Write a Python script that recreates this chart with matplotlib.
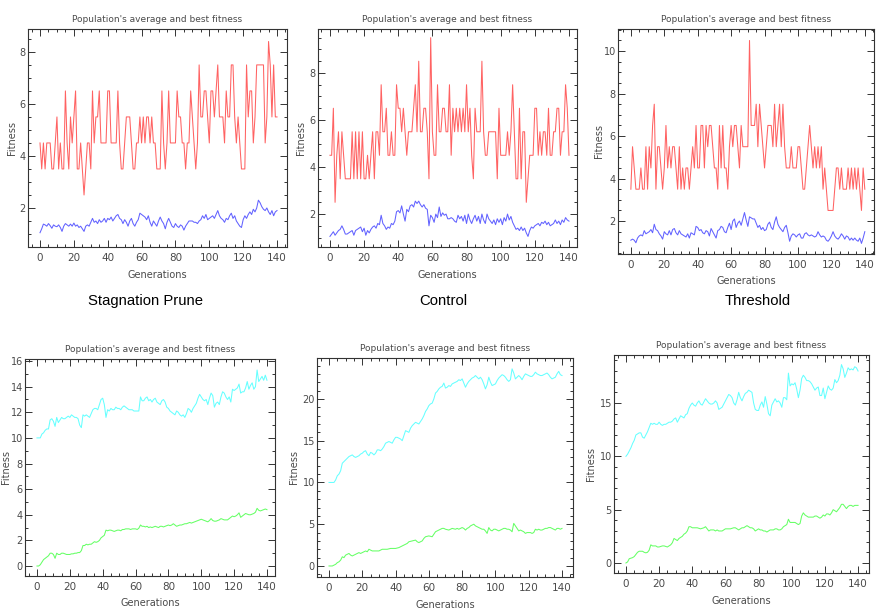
import matplotlib
matplotlib.use("Agg")
import matplotlib.pyplot as plt
from matplotlib.ticker import MultipleLocator

gens = list(range(141))

# top row: best (red) and average (blue) fitness
prune_best = [4.5, 3.5, 4.5, 3.5, 4.5, 4.5, 4.5, 3.5, 3.5, 4.5,
              5.5, 3.5, 4.5, 3.5, 3.5, 6.5, 4.5, 3.5, 5.5, 4.5,
              5.5, 6.5, 3.5, 3.5, 4.5, 3.5, 2.5, 3.5, 4.5, 4.5,
              3.5, 6.5, 4.5, 5.5, 5.5, 6.5, 4.5, 4.5, 4.5, 4.5,
              6.5, 6.5, 4.5, 4.5, 4.5, 4.5, 6.5, 4.5, 3.5, 3.5,
              4.5, 5.5, 5.5, 5.5, 4.5, 3.5, 3.5, 4.5, 4.5, 5.5,
              4.5, 5.5, 4.5, 5.5, 5.5, 4.5, 5.5, 4.5, 4.5, 3.5,
              3.5, 3.5, 6.5, 4.5, 3.5, 4.5, 6.5, 4.5, 4.5, 4.5,
              4.5, 6.5, 5.5, 5.5, 4.5, 4.5, 3.5, 4.5, 4.5, 6.5,
              5.5, 4.5, 3.5, 4.5, 7.5, 5.5, 5.5, 6.5, 6.5, 5.5,
              4.5, 6.5, 6.5, 5.5, 6.5, 7.5, 5.5, 5.5, 5.5, 4.5,
              6.5, 5.5, 5.5, 7.5, 7.5, 5.5, 4.5, 5.5, 4.5, 3.5,
              3.5, 3.5, 7.5, 5.5, 6.5, 6.5, 4.5, 5.5, 7.5, 7.5,
              7.5, 7.5, 7.5, 4.5, 5.5, 8.4, 7.5, 5.5, 7.5, 5.5, 5.5]
prune_avg = [1.05, 1.2, 1.38, 1.35, 1.3, 1.4, 1.32, 1.22, 1.35, 1.3,
             1.28, 1.35, 1.25, 1.1, 1.3, 1.4, 1.35, 1.3, 1.38, 1.3,
             1.42, 1.3, 1.35, 1.25, 1.3, 1.2, 1.1, 1.3, 1.35, 1.3,
             1.45, 1.6, 1.45, 1.5, 1.4, 1.55, 1.45, 1.5, 1.6, 1.45,
             1.6, 1.55, 1.65, 1.5, 1.6, 1.7, 1.75, 1.6, 1.55, 1.4,
             1.55, 1.45, 1.3, 1.5, 1.6, 1.4, 1.3, 1.45, 1.55, 1.8,
             1.75, 1.7, 1.65, 1.55, 1.7, 1.45, 1.3, 1.5, 1.4, 1.3,
             1.5, 1.65, 1.5, 1.4, 1.2, 1.45, 1.6, 1.45, 1.3, 1.25,
             1.4, 1.3, 1.25, 1.35, 1.3, 1.15, 1.3, 1.4, 1.5, 1.5,
             1.5, 1.45, 1.45, 1.4, 1.5, 1.55, 1.7, 1.6, 1.75, 1.55,
             1.6, 1.65, 1.7, 1.6, 1.75, 1.9, 1.7, 1.6, 1.55, 1.45,
             1.6, 1.55, 1.7, 1.8, 1.6, 1.7, 1.5, 1.4, 1.3, 1.25,
             1.55, 1.7, 1.6, 1.75, 1.85, 1.75, 1.95, 1.85, 2.0, 2.3,
             2.2, 2.05, 1.95, 1.9, 2.0, 1.85, 1.75, 1.9, 1.7, 1.85, 1.9]

control_best = [4.5, 4.5, 6.5, 2.5, 4.5, 5.5, 3.5, 5.5, 4.5, 3.5,
                3.5, 3.5, 3.5, 5.5, 3.5, 5.5, 3.5, 5.5, 3.5, 5.5,
                3.5, 3.5, 4.5, 3.5, 4.5, 5.5, 3.5, 5.5, 5.5, 4.5,
                7.5, 5.5, 5.5, 6.5, 4.5, 4.5, 5.5, 4.5, 4.5, 7.5,
                6.5, 6.5, 5.5, 6.5, 5.5, 4.5, 5.5, 5.5, 5.5, 6.5,
                7.5, 5.5, 8.5, 5.5, 5.5, 6.5, 6.5, 5.5, 3.5, 9.5,
                5.5, 4.5, 4.5, 7.5, 5.5, 5.5, 6.5, 6.5, 5.5, 5.5,
                7.5, 4.5, 6.5, 5.5, 6.5, 5.5, 6.5, 5.5, 6.5, 5.5,
                7.5, 5.5, 6.5, 4.5, 3.5, 6.5, 5.5, 5.5, 5.5, 8.5,
                5.5, 4.5, 4.5, 5.5, 5.5, 5.5, 5.5, 5.5, 3.5, 6.5,
                4.5, 4.5, 4.5, 4.5, 5.5, 4.5, 5.5, 7.5, 5.5, 3.5,
                3.5, 6.5, 3.5, 5.5, 5.5, 2.5, 3.5, 4.5, 4.5, 4.5,
                6.5, 6.5, 4.5, 5.5, 4.5, 5.5, 5.5, 4.5, 6.5, 4.5,
                4.5, 5.5, 5.5, 6.5, 6.5, 4.5, 5.5, 5.5, 7.5, 6.5, 4.5]
control_avg = [1.05, 1.15, 1.25, 1.1, 1.2, 1.3, 1.35, 1.5, 1.35, 1.15,
               1.15, 1.2, 1.25, 1.3, 1.1, 1.3, 1.35, 1.4, 1.45, 1.25,
               1.4, 1.1, 1.3, 1.2, 1.35, 1.45, 1.5, 1.4, 1.6, 1.55,
               1.95, 1.6, 1.5, 1.35, 1.45, 1.4, 1.6, 1.55, 1.7, 2.1,
               2.15, 2.05, 2.35, 2.0, 1.7, 2.2, 2.1, 2.35, 2.4, 2.3,
               2.55, 2.45, 2.55, 2.4, 2.3, 2.4, 2.25, 2.2, 1.5, 1.95,
               1.85, 1.65, 2.0, 1.85, 2.3, 1.9, 2.05, 1.95, 2.0, 1.8,
               1.8, 1.85, 1.8, 1.7, 1.65, 1.95, 1.8, 1.9, 1.7, 1.95,
               1.6, 2.0, 1.75, 1.6, 1.8, 1.95, 1.7, 1.9, 1.6, 2.0,
               1.75, 1.6, 2.0, 1.8, 1.7, 1.6, 1.75, 1.55, 1.8, 1.65,
               1.8, 1.55, 1.85, 1.7, 2.0, 1.75, 1.9, 1.65, 1.5, 1.35,
               1.4, 1.3, 1.45, 1.3, 1.4, 1.2, 1.05, 1.3, 1.45, 1.4,
               1.5, 1.55, 1.6, 1.5, 1.65, 1.6, 1.7, 1.55, 1.65, 1.5,
               1.55, 1.6, 1.75, 1.6, 1.7, 1.55, 1.75, 1.65, 1.85, 1.75, 1.7]

thresh_best = [3.5, 5.5, 4.5, 3.5, 3.5, 3.5, 4.5, 3.5, 3.5, 5.5,
               3.5, 5.5, 4.5, 6.5, 7.5, 3.5, 5.5, 5.5, 4.5, 3.5,
               4.5, 6.5, 4.5, 5.5, 4.5, 5.5, 5.5, 4.5, 3.5, 5.5,
               3.5, 4.5, 3.5, 4.5, 4.5, 3.5, 4.5, 5.5, 4.5, 6.5,
               4.5, 4.5, 6.5, 6.5, 4.5, 6.5, 5.5, 6.5, 6.5, 5.5,
               4.5, 4.5, 3.5, 6.5, 4.5, 6.5, 4.5, 4.5, 3.5, 5.5,
               6.5, 5.5, 6.5, 6.5, 5.5, 4.5, 6.5, 5.5, 5.5, 5.5,
               5.5, 10.5, 6.5, 6.5, 6.5, 7.5, 5.5, 7.5, 6.5, 5.5,
               4.5, 5.5, 6.5, 6.5, 6.5, 5.5, 7.5, 5.5, 6.5, 7.5,
               5.5, 7.5, 5.5, 4.5, 4.5, 4.5, 5.5, 4.5, 4.5, 4.5,
               5.5, 5.5, 4.5, 3.5, 3.5, 4.5, 5.5, 6.5, 5.5, 4.5,
               5.5, 4.5, 5.5, 4.5, 5.5, 3.5, 4.5, 3.5, 2.5, 2.5,
               2.5, 2.5, 3.5, 4.5, 4.5, 3.5, 4.5, 3.5, 3.5, 3.5,
               4.5, 3.5, 4.5, 3.5, 4.5, 3.5, 4.5, 3.5, 2.5, 4.5, 3.5]
thresh_avg = [1.1, 1.15, 1.1, 0.98, 1.2, 1.3, 1.35, 1.3, 1.55, 1.4,
              1.45, 1.5, 1.6, 1.45, 1.85, 1.6, 1.55, 1.4, 1.3, 1.15,
              1.5, 1.4, 1.35, 1.55, 1.35, 1.6, 1.65, 1.45, 1.35, 1.55,
              1.4, 1.35, 1.3, 1.25, 1.4, 1.2, 1.45, 1.4, 1.35, 1.75,
              1.7, 1.55, 1.6, 1.45, 1.4, 1.55, 1.5, 1.3, 1.65, 1.5,
              1.35, 1.2, 1.55, 1.6, 1.75, 1.7, 1.5, 1.45, 1.7, 1.9,
              1.6, 2.0, 2.1, 1.7, 1.9, 2.0, 1.8, 2.1, 2.4, 2.05,
              1.75, 2.2, 2.15, 2.1, 2.1, 1.9, 1.7, 1.8, 1.6, 1.7,
              1.55, 1.6, 1.85, 1.95, 1.7, 1.6, 1.95, 2.2, 1.85, 1.7,
              1.6, 1.5, 1.7, 1.8, 1.45, 1.05, 1.3, 1.4, 1.35, 1.25,
              1.35, 1.4, 1.2, 1.2, 1.4, 1.45, 1.35, 1.3, 1.35, 1.3,
              1.25, 1.3, 1.5, 1.35, 1.25, 1.3, 1.25, 1.1, 1.05, 1.15,
              1.3, 1.5, 1.3, 1.2, 1.15, 1.25, 1.4, 1.3, 1.15, 1.3,
              1.25, 1.1, 1.2, 1.1, 1.2, 1.1, 1.05, 1.2, 0.95, 1.2, 1.5]

# bottom row: best (cyan) and average (green) fitness
prune2_best = [10.0, 10.0, 10.0, 10.3, 10.4, 10.6, 10.7, 10.7, 11.4, 11.5,
               11.3, 10.9, 11.6, 11.2, 11.4, 11.6, 11.5, 11.5, 11.6, 11.7,
               11.6, 11.8, 11.7, 11.6, 11.6, 11.5, 11.0, 10.8, 11.8, 11.7,
               11.8, 11.7, 11.6, 11.9, 12.2, 12.3, 12.3, 12.2, 12.6, 13.0,
               13.1, 12.6, 11.6, 12.2, 12.1, 12.3, 12.2, 12.2, 12.4, 12.3,
               12.3, 12.2, 12.4, 12.5, 12.4, 12.3, 12.2, 12.2, 12.2, 12.1,
               12.1, 12.1, 12.1, 13.2, 12.9, 12.9, 13.1, 13.2, 12.9, 13.0,
               12.8, 13.0, 13.1, 12.8, 12.7, 12.6, 12.9, 13.0, 12.8, 12.4,
               12.3, 12.1, 12.0, 11.9, 11.8, 12.1, 12.0, 11.8, 11.7, 11.8,
               11.6, 11.9, 12.3, 12.2, 12.0, 12.3, 12.5, 12.7, 13.1, 13.4,
               13.2, 13.0, 12.9, 13.0, 12.6, 13.1, 13.5, 13.3, 12.4, 12.7,
               12.8, 12.6, 13.2, 13.6, 13.5, 13.2, 13.0, 13.2, 12.8, 13.8,
               13.7, 13.8, 13.9, 14.2, 13.5, 13.6, 13.6, 13.9, 14.4, 13.8,
               14.1, 14.3, 13.8, 14.0, 15.3, 14.4, 14.6, 14.8, 14.5, 14.9, 14.5]
prune2_avg = [0.0, 0.0, 0.1, 0.3, 0.5, 0.6, 0.7, 0.8, 1.0, 1.0,
              0.9, 0.6, 1.0, 0.9, 0.9, 1.0, 1.0, 0.95, 0.9, 0.9,
              0.9, 0.95, 0.95, 1.0, 1.0, 1.05, 1.05, 1.2, 1.6, 1.6,
              1.7, 1.65, 1.7, 1.7, 1.8, 1.9, 1.85, 1.9, 2.0, 2.2,
              2.3, 2.4, 2.8, 2.75, 2.8, 2.8, 2.75, 2.7, 2.75, 2.8,
              2.8, 2.75, 2.85, 2.85, 2.9, 2.9, 2.9, 2.85, 2.9, 2.9,
              2.9, 2.85, 2.95, 3.2, 3.1, 3.1, 3.05, 3.1, 3.0, 3.05,
              3.0, 3.05, 3.1, 3.05, 3.0, 3.1, 3.1, 3.05, 3.1, 3.15,
              3.2, 3.15, 3.2, 3.3, 3.2, 3.1, 3.15, 3.2, 3.2, 3.25,
              3.3, 3.3, 3.35, 3.4, 3.35, 3.4, 3.45, 3.5, 3.55, 3.6,
              3.65, 3.6, 3.55, 3.5, 3.45, 3.55, 3.7, 3.55, 3.5, 3.5,
              3.55, 3.6, 3.7, 3.65, 3.6, 3.6, 3.6, 3.7, 3.8, 3.9,
              3.85, 3.9, 4.0, 4.15, 3.8, 3.9, 4.0, 4.1, 4.05, 4.0,
              4.0, 4.05, 4.1, 4.2, 4.5, 4.35, 4.3, 4.35, 4.4, 4.45, 4.4]

control2_best = [10.0, 10.0, 10.0, 10.0, 10.3, 10.8, 11.0, 11.4, 12.3, 12.5,
                 12.7, 12.9, 13.1, 13.2, 13.3, 13.1, 13.0, 13.1, 13.2, 13.4,
                 13.5, 13.7, 13.8, 13.4, 13.2, 13.6, 13.5, 13.3, 13.5, 13.9,
                 13.9, 13.8, 14.0, 14.3, 14.7, 14.8, 14.9, 14.8, 14.7, 15.1,
                 15.4, 15.4, 15.3, 15.2, 15.0, 15.6, 16.2, 16.1, 16.0, 16.5,
                 16.8, 17.0, 17.2, 17.1, 17.0, 17.3, 17.6, 18.0, 18.5, 18.8,
                 19.2, 19.4, 19.5, 20.0, 20.7, 20.9, 21.2, 21.4, 21.5, 21.9,
                 21.3, 21.4, 21.6, 21.5, 21.8, 21.9, 22.0, 22.1, 22.3, 22.2,
                 22.4, 21.9, 21.4, 21.8, 22.1, 22.3, 22.5, 22.6, 22.8, 22.6,
                 22.4, 22.6, 22.3, 21.8, 21.2, 21.7, 22.6, 22.0, 21.6, 21.7,
                 21.8, 22.2, 22.5, 22.7, 22.9, 22.8, 22.6, 22.3, 22.1, 22.3,
                 23.6, 23.1, 22.4, 22.6, 22.8, 22.6, 22.3, 22.7, 23.0, 22.9,
                 22.8, 22.7, 22.7, 22.9, 23.2, 23.0, 22.9, 22.8, 22.8, 22.9,
                 23.0, 23.1, 22.9, 22.6, 22.4, 22.5, 22.6, 23.0, 23.3, 22.9, 22.8]
control2_avg = [0.0, 0.0, 0.0, 0.1, 0.2, 0.4, 0.5, 0.7, 1.1, 1.0,
                1.3, 1.4, 1.5, 1.3, 1.2, 1.3, 1.4, 1.5, 1.6, 1.5,
                1.6, 1.7, 1.8, 1.7, 2.0, 1.9, 1.8, 1.8, 1.8, 1.8,
                1.8, 1.9, 2.0, 2.0, 2.0, 2.0, 2.05, 2.1, 2.1, 2.1,
                2.1, 2.15, 2.2, 2.3, 2.4, 2.5, 2.6, 2.7, 2.9, 2.95,
                3.0, 3.05, 3.1, 2.9, 2.8, 2.9, 3.0, 3.3, 3.5, 3.55,
                3.6, 3.55, 3.5, 3.8, 4.1, 4.2, 4.3, 4.4, 4.5, 4.5,
                4.4, 4.35, 4.3, 4.4, 4.5, 4.45, 4.4, 4.5, 4.4, 4.5,
                4.6, 4.5, 4.3, 4.5, 4.6, 4.8, 4.9, 5.0, 4.8, 4.7,
                4.6, 4.5, 4.4, 4.4, 4.2, 3.9, 4.6, 4.3, 4.2, 4.4,
                4.4, 4.3, 4.2, 4.3, 4.4, 4.5, 4.5, 4.4, 4.4, 4.3,
                4.1, 5.1, 4.8, 4.5, 4.2, 4.3, 4.2, 4.1, 3.9, 4.0,
                4.0, 4.0, 3.9, 4.0, 4.4, 4.3, 4.4, 4.3, 4.3, 4.4,
                4.5, 4.5, 4.6, 4.6, 4.5, 4.4, 4.3, 4.5, 4.5, 4.4, 4.5]

thresh2_best = [10.0, 10.2, 10.5, 10.8, 11.2, 11.5, 12.0, 12.1, 12.2, 12.2,
                11.8, 11.7, 12.0, 12.3, 12.7, 13.1, 13.0, 13.1, 13.0, 13.0,
                13.2, 13.0, 12.9, 13.0, 13.0, 13.1, 13.2, 13.2, 13.3, 13.5,
                13.6, 13.2, 13.5, 13.8, 13.7, 13.6, 13.9, 14.0, 14.5, 14.8,
                15.0, 14.8, 14.7, 15.0, 15.2, 14.9, 14.8, 15.1, 15.4, 15.2,
                15.0, 14.9, 14.9, 15.0, 15.2, 15.0, 14.4, 14.5, 14.6, 14.9,
                15.2, 15.5, 15.8, 15.7, 15.5, 15.0, 14.8, 15.3, 16.0, 15.5,
                15.2, 15.6, 15.9, 16.0, 16.2, 16.1, 16.0, 15.0, 14.4, 14.3,
                14.3, 14.8, 15.1, 14.6, 15.6, 14.9, 14.0, 13.8, 14.8, 15.1,
                15.4, 15.1, 15.2, 15.0, 14.6, 15.5, 15.5, 15.3, 17.8, 16.6,
                16.8, 16.7, 16.9, 16.3, 15.5, 16.2, 17.3, 17.6, 17.4, 17.1,
                17.1, 17.0, 16.8, 16.5, 16.2, 16.4, 16.5, 15.7, 15.7, 16.4,
                15.4, 16.0, 16.6, 16.3, 16.2, 16.4, 17.2, 16.9, 17.1, 17.6,
                18.6, 18.2, 17.4, 17.8, 18.3, 18.1, 18.2, 18.1, 18.4, 18.3, 18.0]
thresh2_avg = [0.0, 0.1, 0.4, 0.45, 0.5, 0.6, 0.8, 1.0, 1.1, 1.1,
               1.1, 1.0, 0.95, 1.0, 1.2, 1.7, 1.6, 1.6, 1.6, 1.5,
               1.5, 1.55, 1.6, 1.6, 1.55, 1.5, 1.6, 1.7, 1.9, 2.3,
               2.2, 2.1, 2.3, 2.4, 2.5, 2.7, 2.8, 3.0, 3.4, 3.4,
               3.3, 3.3, 3.3, 3.3, 3.25, 3.2, 3.25, 3.3, 3.4, 3.2,
               3.0, 3.1, 3.1, 3.1, 3.0, 3.1, 3.0, 3.0, 3.0, 3.1,
               3.2, 3.2, 3.2, 3.2, 3.25, 3.3, 3.3, 3.2, 3.1, 3.2,
               3.3, 3.3, 3.4, 3.5, 3.4, 3.3, 3.3, 3.2, 3.0, 3.1,
               3.2, 3.1, 3.1, 3.0, 3.0, 2.9, 3.0, 3.1, 3.1, 3.1,
               3.2, 3.2, 3.1, 3.1, 3.2, 3.4, 3.5, 3.6, 4.1, 3.8,
               3.8, 3.8, 3.8, 3.7, 3.6, 3.7, 4.4, 4.7, 4.5, 4.4,
               4.3, 4.3, 4.3, 4.3, 4.4, 4.4, 4.3, 4.2, 4.3, 4.5,
               4.4, 4.6, 4.6, 4.5, 4.7, 5.0, 4.9, 4.8, 5.0, 5.2,
               5.5, 5.5, 5.3, 5.1, 5.3, 5.4, 5.4, 5.3, 5.4, 5.4, 5.4]

method_names = ["Stagnation Prune", "Control", "Threshold"]

small = ['Liberation Sans Narrow', 'DejaVu Sans']
txt = '#4a4a4a'
W, H = 876.0, 610.0

fig = plt.figure(figsize=(8.76, 6.10), dpi=100)


def panel(px, xlim, ylim, ymaj, ymin, best, avg, cb, ca, ylab_x):
    # px = (left, top, right, bottom) in pixels
    l, t, r, b = px
    ax = fig.add_axes([l / W, 1 - b / H, (r - l) / W, (b - t) / H])
    ax.plot(gens, best, color=cb, lw=0.75)
    ax.plot(gens, avg, color=ca, lw=0.75)
    ax.set_xlim(xlim)
    ax.set_ylim(ylim)
    ax.xaxis.set_major_locator(MultipleLocator(20))
    ax.xaxis.set_minor_locator(MultipleLocator(5))
    ax.yaxis.set_major_locator(MultipleLocator(ymaj))
    ax.yaxis.set_minor_locator(MultipleLocator(ymin))
    ax.tick_params(which='both', direction='in', top=True, right=True,
                   color='#333333', width=0.7)
    ax.tick_params(which='major', length=5)
    ax.tick_params(which='minor', length=2.5)
    ax.tick_params(axis='x', pad=4)
    ax.tick_params(axis='y', pad=1.5)
    for lab in ax.get_xticklabels():
        lab.set_family(small)
        lab.set_fontsize(7.5)
        lab.set_color(txt)
    for lab in ax.get_yticklabels():
        lab.set_family(small)
        lab.set_fontsize(7)
        lab.set_color(txt)
    for s in ax.spines.values():
        s.set_color('#333333')
        s.set_linewidth(0.8)
    ax.set_title("Population's average and best fitness", fontsize=6.5,
                 family=small, color=txt, pad=5)
    ax.set_xlabel("Generations", fontsize=7, family=small, color=txt, labelpad=5)
    ax.set_ylabel("Fitness", fontsize=7, family=small, color=txt)
    # ylab_x is the right edge of the rotated label, in pixels
    ax.yaxis.set_label_coords((ylab_x - l) / (r - l), 0.5)
    return ax


red, blue, cyan, green = '#ff6262', '#6262ff', '#66ffff', '#66ff66'

panel((28, 29, 287, 247), (-7.1, 145.9), (0.5, 8.88), 2, 0.5, prune_best, prune_avg, red, blue, 17)
panel((318, 29, 577, 247), (-7.0, 144.7), (0.6, 9.87), 2, 0.5, control_best, control_avg, red, blue, 306)
panel((618, 29, 874, 254), (-7.7, 145.5), (0.45, 11.04), 2, 0.5, thresh_best, thresh_avg, red, blue, 604)
panel((25, 359, 275, 576), (-7.3, 144.9), (-0.78, 16.16), 2, 1, prune2_best, prune2_avg, cyan, green, 11)
panel((317, 358, 573, 577), (-7.2, 146.6), (-1.32, 24.9), 5, 1, control2_best, control2_avg, cyan, green, 299)
panel((614, 355, 869, 573), (-7.2, 146.6), (-0.94, 19.5), 5, 1, thresh2_best, thresh2_avg, cyan, green, 596)

for name, cx in zip(method_names, [145, 443, 758]):
    fig.text(cx / W, 1 - 301 / H, name, ha='center', va='center',
             fontsize=10.7, family=['Liberation Sans', 'DejaVu Sans'], color='black')

fig.savefig("out.png", dpi=100)
